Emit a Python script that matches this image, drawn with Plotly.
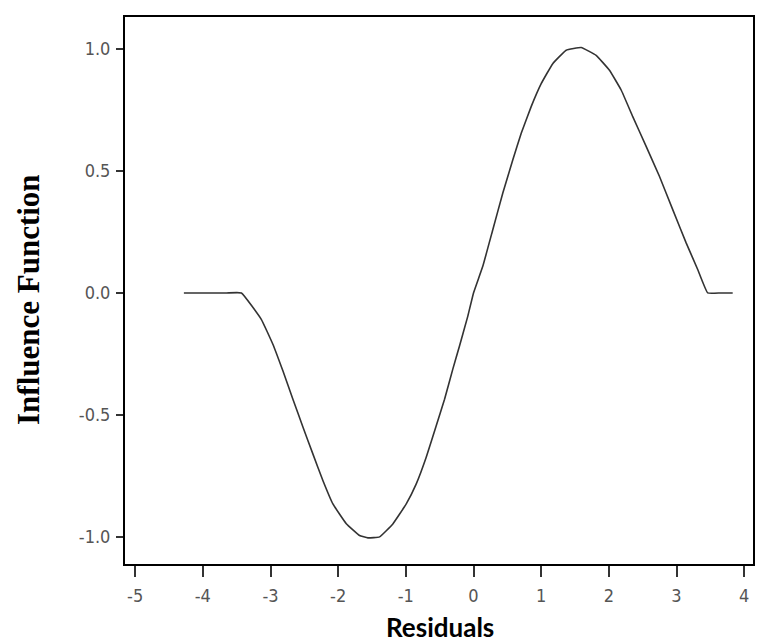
import plotly.graph_objects as go

residuals = [-4.28, -3.95, -3.65, -3.43, -3.136, -2.965, -2.817, -2.669, -2.521, -2.374, -2.226, -2.078,
             -1.880, -1.684, -1.561, -1.388, -1.192, -0.994, -0.846, -0.699, -0.551, -0.428,
             -0.306, -0.207, -0.084, 0.0, 0.137, 0.285, 0.433, 0.581, 0.705, 0.852, 1.0,
             1.171, 1.369, 1.591, 1.812, 2.009, 2.182, 2.353, 2.551, 2.747, 2.944, 3.142,
             3.313, 3.461, 3.65, 3.830]
influence = [0.0, 0.0, 0.0, 0.0, -0.108, -0.210, -0.319, -0.435, -0.549, -0.659, -0.768, -0.864,
             -0.945, -0.993, -1.003, -0.999, -0.946, -0.864, -0.782, -0.673, -0.544, -0.435,
             -0.312, -0.217, -0.095, 0.0, 0.109, 0.259, 0.409, 0.545, 0.654, 0.763, 0.857,
             0.939, 0.994, 1.005, 0.973, 0.912, 0.831, 0.722, 0.600, 0.478, 0.341, 0.205,
             0.096, 0.0, 0.0, 0.0]

x_ticks = [-5, -4, -3, -2, -1, 0, 1, 2, 3, 4]
y_ticks = [-1.0, -0.5, 0.0, 0.5, 1.0]

fig = go.Figure()
fig.add_trace(go.Scatter(x=residuals, y=influence, mode="lines",
                         line=dict(color="#333333", width=1.6, shape="spline", smoothing=0.3),
                         showlegend=False, hoverinfo="skip"))

tick_font = dict(family="Liberation Sans Narrow, DejaVu Sans Condensed, sans-serif",
                 size=18, color="#555555")

fig.update_layout(
    width=771, height=642,
    margin=dict(l=125, r=18, t=17, b=78),
    paper_bgcolor="white", plot_bgcolor="white",
    xaxis=dict(range=[-5.15, 4.13], tickvals=x_ticks, ticktext=[str(v) for v in x_ticks],
               showgrid=False, zeroline=False, showline=True, linecolor="black", linewidth=2,
               mirror=True, ticks="outside", ticklen=11, tickwidth=2, tickcolor="#333333",
               tickfont=tick_font, ticklabelstandoff=3),
    yaxis=dict(range=[-1.11, 1.13], tickvals=y_ticks, ticktext=[f"{v:.1f}" for v in y_ticks],
               showgrid=False, zeroline=False, showline=True, linecolor="black", linewidth=2,
               mirror=True, ticks="outside", ticklen=7, tickwidth=2, tickcolor="#333333",
               tickfont=tick_font, ticklabelstandoff=2),
    annotations=[
        dict(text="<b>Residuals</b>", xref="paper", yref="paper",
             x=(440 - 125) / 628, y=-(627 - 564) / 547, xanchor="center", yanchor="middle",
             showarrow=False,
             font=dict(family="Lato, Open Sans, sans-serif", size=26, color="black")),
        dict(text="<b>Influence Function</b>", xref="paper", yref="paper",
             x=-(125 - 28) / 628, y=(564 - 300) / 547, xanchor="center", yanchor="middle",
             textangle=-90, showarrow=False,
             font=dict(family="Liberation Serif, Times New Roman, serif", size=31, color="black")),
    ],
)

fig.write_html("out.html")
